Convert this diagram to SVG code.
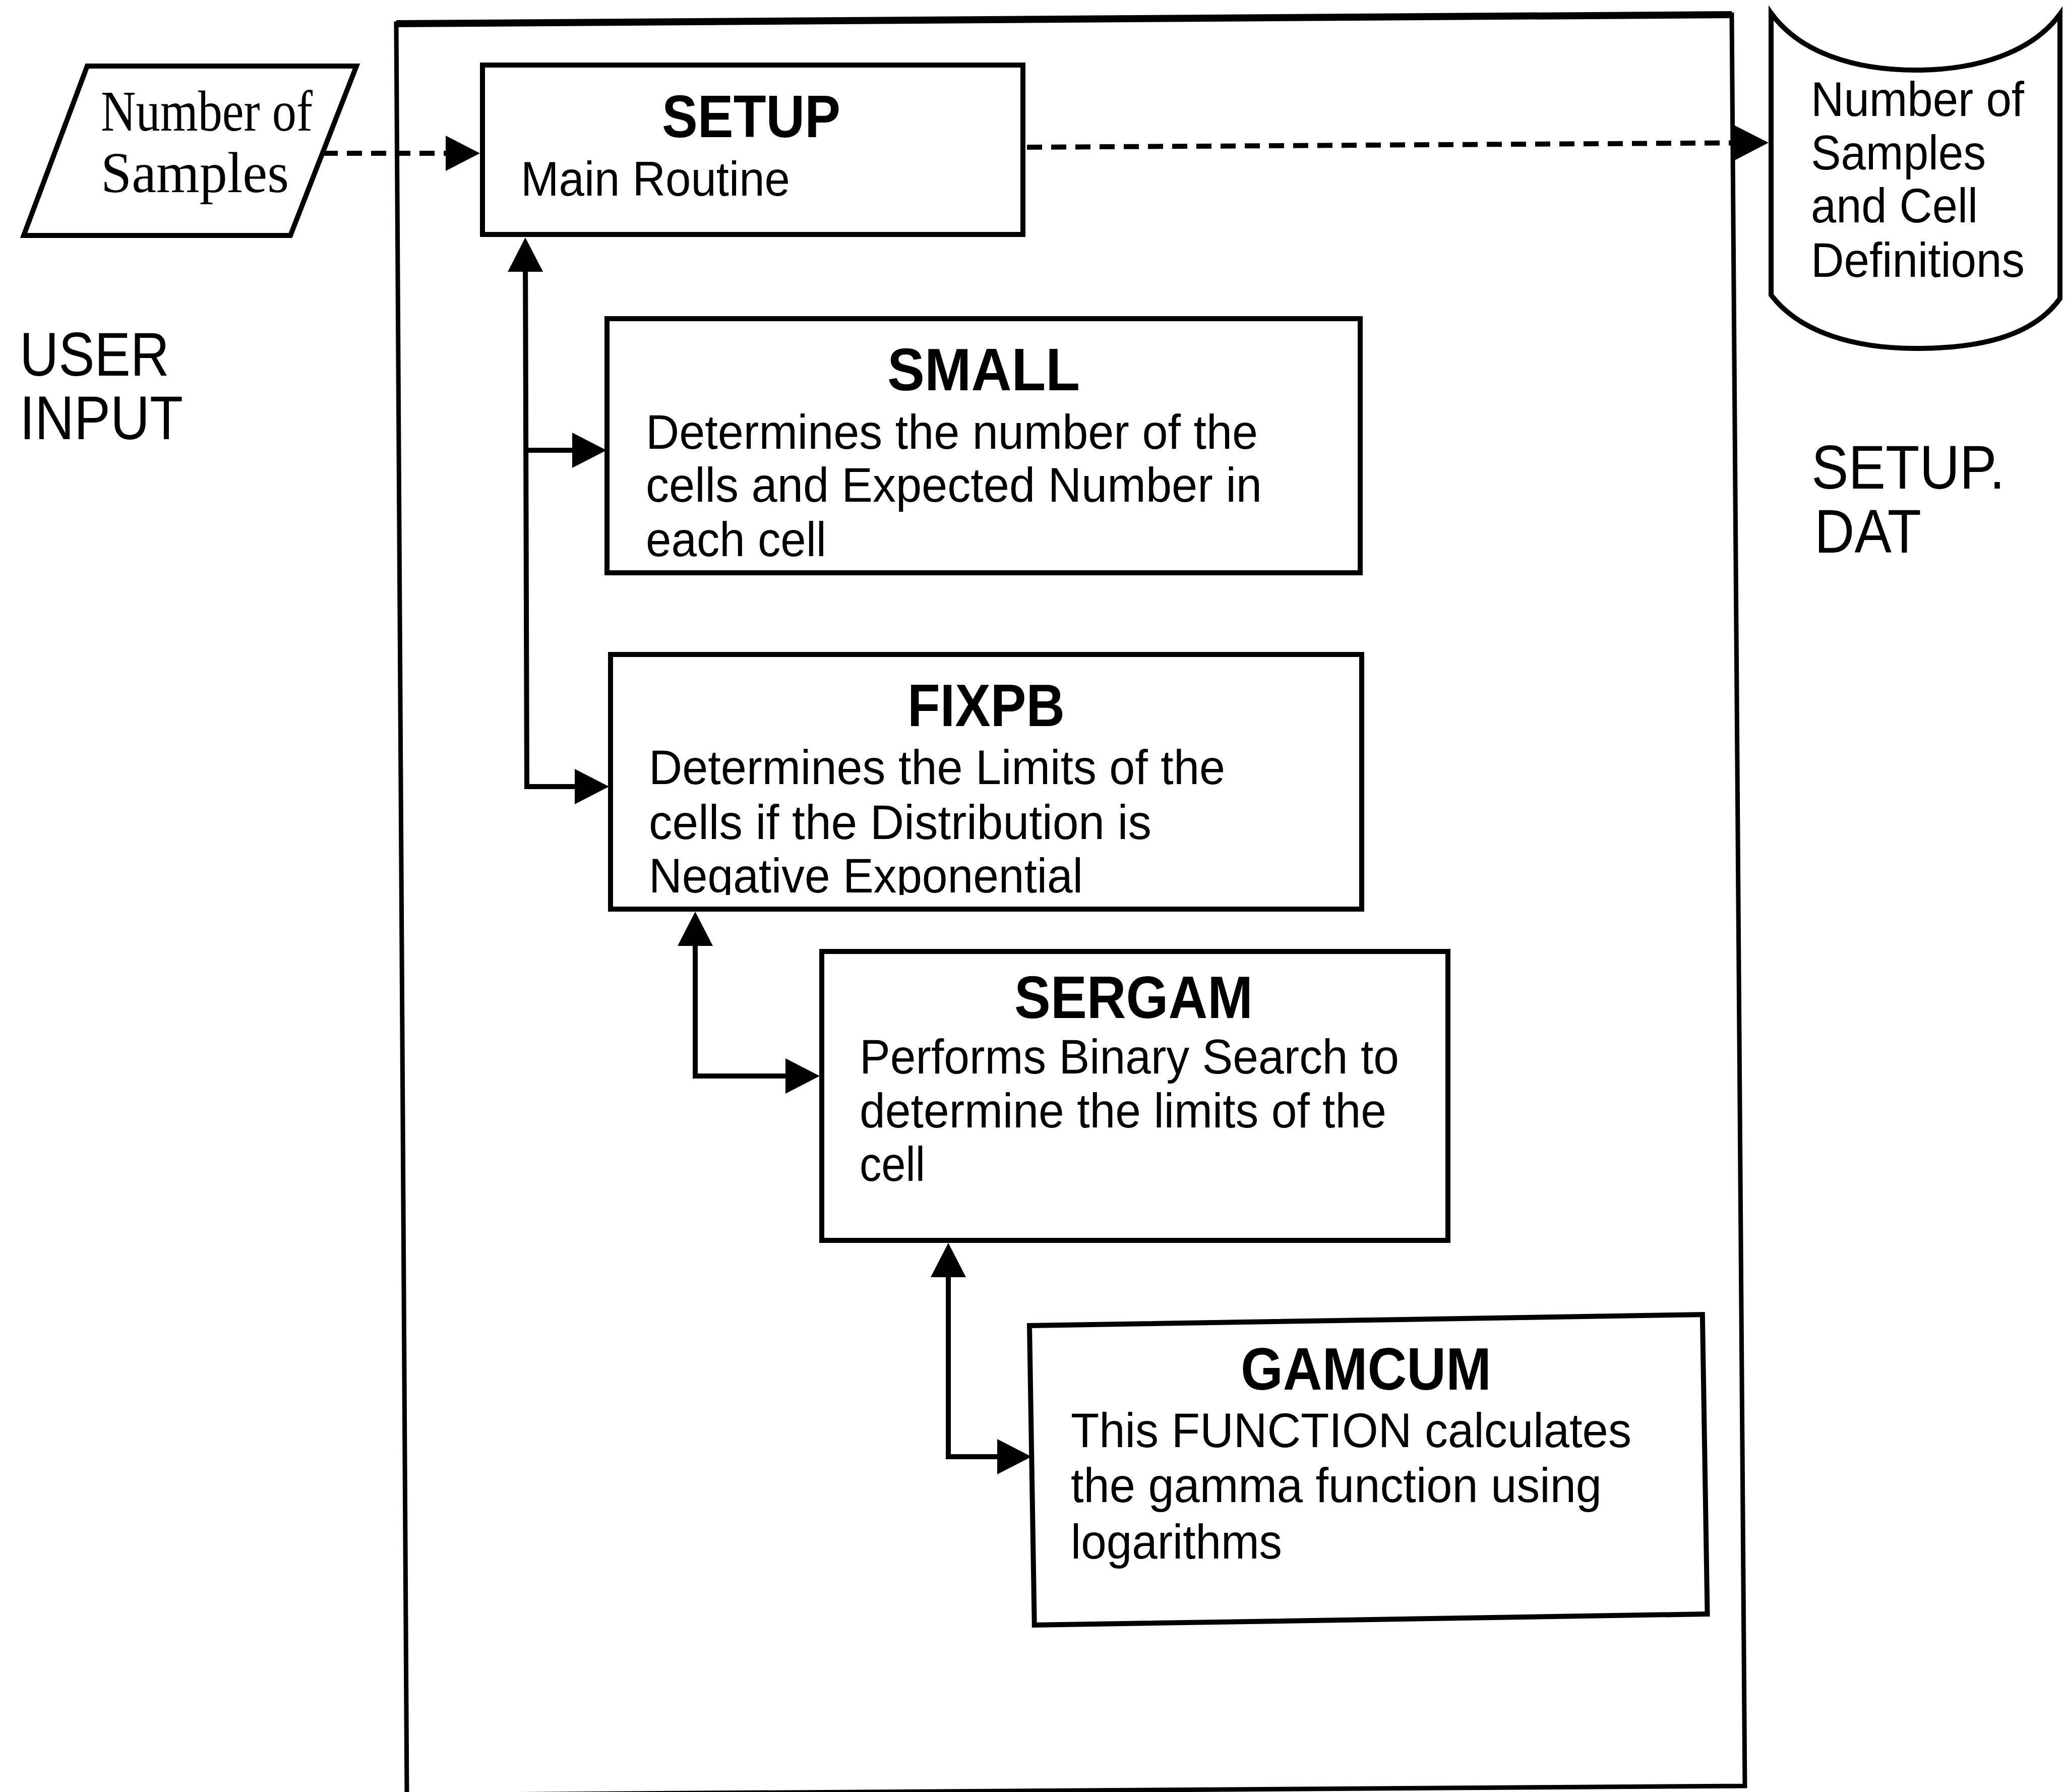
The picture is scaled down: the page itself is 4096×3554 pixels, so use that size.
<svg xmlns="http://www.w3.org/2000/svg" width="4096" height="3554" viewBox="0 0 4096 3554">
<style>
.box{fill:#fff;stroke:#000;stroke-width:10;stroke-linejoin:miter}
.t{font-family:"Liberation Sans",Arial,sans-serif;fill:#000}
.title{font-weight:bold;font-size:118px}
.body{font-size:97px}
.big{font-size:123px}
.serif{font-family:"Liberation Serif","Times New Roman",serif;font-size:115px;fill:#000}
.conn{fill:none;stroke:#000;stroke-width:10}
.dash{stroke-dasharray:30 18;stroke-width:10}
</style>
<defs>
<marker id="arr" markerUnits="userSpaceOnUse" markerWidth="70" markerHeight="72" refX="54" refY="35" orient="auto-start-reverse" overflow="visible">
<path d="M0,0 L68,35 L0,70 Z" fill="#000" stroke="none"/>
</marker>
<clipPath id="negclip"><rect x="1200" y="1600" width="1500" height="175"/></clipPath>
</defs>
<rect x="0" y="0" width="4096" height="3554" fill="#fff"/>

<g id="frame">
<polygon points="786,47 3435,29 3461,3542 807,3560" fill="none" stroke="#000" stroke-width="9"/>
<line x1="786" y1="47" x2="3435" y2="29" stroke="#000" stroke-width="14"/>
</g>

<g id="user-input-label">
<text class="t big" x="39" y="745" textLength="297" lengthAdjust="spacingAndGlyphs">USER</text>
<text class="t big" x="39" y="871" textLength="324" lengthAdjust="spacingAndGlyphs">INPUT</text>
</g>

<g id="setup-dat-label">
<text class="t big" x="3593" y="969" textLength="384" lengthAdjust="spacingAndGlyphs">SETUP.</text>
<text class="t big" x="3599" y="1096" textLength="212" lengthAdjust="spacingAndGlyphs">DAT</text>
</g>

<g id="node-input">
<polygon class="box" points="173,131 707,131 576,467 47,467"/>
<text class="serif" x="200" y="259" textLength="420" lengthAdjust="spacingAndGlyphs">Number of</text>
<text class="serif" x="200" y="381" textLength="373" lengthAdjust="spacingAndGlyphs">Samples</text>
</g>

<g id="node-setup">
<rect class="box" x="957" y="129" width="1072" height="336"/>
<text class="t title" x="1313" y="272" textLength="354" lengthAdjust="spacingAndGlyphs">SETUP</text>
<text class="t body" x="1033" y="388" textLength="534" lengthAdjust="spacingAndGlyphs">Main Routine</text>
</g>

<g id="node-setupdat">
<path class="box" d="M3513,26 C3570,105 3680,139 3800,139 C3920,139 4030,105 4086,28 L4086,592 C4030,670 3920,691 3800,691 C3680,691 3570,660 3513,585 Z"/>
<text class="t body" x="3592" y="230" textLength="423" lengthAdjust="spacingAndGlyphs">Number of</text>
<text class="t body" x="3592" y="336" textLength="347" lengthAdjust="spacingAndGlyphs">Samples</text>
<text class="t body" x="3592" y="441" textLength="331" lengthAdjust="spacingAndGlyphs">and Cell</text>
<text class="t body" x="3592" y="549" textLength="424" lengthAdjust="spacingAndGlyphs">Definitions</text>
</g>

<g id="node-small">
<rect class="box" x="1204" y="632" width="1494" height="504"/>
<text class="t title" x="1760" y="774" textLength="382" lengthAdjust="spacingAndGlyphs">SMALL</text>
<text class="t body" x="1281" y="890" textLength="1214" lengthAdjust="spacingAndGlyphs">Determines the number of the</text>
<text class="t body" x="1281" y="995" textLength="1222" lengthAdjust="spacingAndGlyphs">cells and Expected Number in</text>
<text class="t body" x="1281" y="1103" textLength="358" lengthAdjust="spacingAndGlyphs">each cell</text>
</g>

<g id="node-fixpb">
<rect class="box" x="1211" y="1298" width="1490" height="505"/>
<text class="t title" x="1800" y="1440" textLength="312" lengthAdjust="spacingAndGlyphs">FIXPB</text>
<text class="t body" x="1287" y="1555" textLength="1143" lengthAdjust="spacingAndGlyphs">Determines the Limits of the</text>
<text class="t body" x="1287" y="1664" textLength="997" lengthAdjust="spacingAndGlyphs">cells if the Distribution is</text>
<text class="t body" x="1287" y="1770" textLength="861" lengthAdjust="spacingAndGlyphs" clip-path="url(#negclip)">Negative Exponential</text>
</g>

<g id="node-sergam">
<rect class="box" x="1630" y="1887" width="1242" height="573"/>
<text class="t title" x="2012" y="2019" textLength="473" lengthAdjust="spacingAndGlyphs">SERGAM</text>
<text class="t body" x="1705" y="2129" textLength="1070" lengthAdjust="spacingAndGlyphs">Performs Binary Search to</text>
<text class="t body" x="1705" y="2236" textLength="1045" lengthAdjust="spacingAndGlyphs">determine the limits of the</text>
<text class="t body" x="1705" y="2342" textLength="130" lengthAdjust="spacingAndGlyphs">cell</text>
</g>

<g id="node-gamcum">
<rect class="box" x="2042" y="2629" width="1335" height="594" transform="rotate(-0.94 2042 2629)"/>
<text class="t title" x="2461" y="2756" textLength="497" lengthAdjust="spacingAndGlyphs">GAMCUM</text>
<text class="t body" x="2124" y="2870" textLength="1112" lengthAdjust="spacingAndGlyphs">This FUNCTION calculates</text>
<text class="t body" x="2124" y="2979" textLength="1053" lengthAdjust="spacingAndGlyphs">the gamma function using</text>
<text class="t body" x="2124" y="3091" textLength="419" lengthAdjust="spacingAndGlyphs">logarithms</text>
</g>

<g id="connectors">
<path class="conn dash" d="M640,304 L938,304" marker-end="url(#arr)"/>
<path class="conn dash" d="M2037,292 L3494,283" marker-end="url(#arr)"/>
<path class="conn" d="M1194,1560 L1045,1560 L1042,485" marker-start="url(#arr)" marker-end="url(#arr)"/>
<path class="conn" d="M1043,893 L1189,893" marker-end="url(#arr)"/>
<path class="conn" d="M1612,2134 L1379,2134 L1379,1822" marker-start="url(#arr)" marker-end="url(#arr)"/>
<path class="conn" d="M2032,2889 L1881,2889 L1881,2479" marker-start="url(#arr)" marker-end="url(#arr)"/>
</g>
</svg>
